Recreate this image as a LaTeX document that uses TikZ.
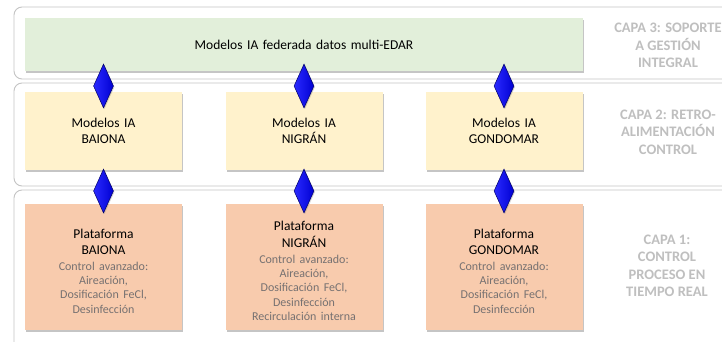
\documentclass[tikz,border=0pt]{standalone}
\usepackage{fontspec}
\setmainfont{Carlito}
\usetikzlibrary{shapes.geometric,shadows}
\definecolor{greenfill}{HTML}{E2EFDA}
\definecolor{yellowfill}{HTML}{FFF2CC}
\definecolor{orangefill}{HTML}{F8CBAD}
\definecolor{framegray}{HTML}{C4C4C4}
\definecolor{labelgray}{HTML}{BFBFBF}
\definecolor{smallgray}{HTML}{767171}
\definecolor{dbluelight}{HTML}{2A2AFF}
\definecolor{dbluedark}{HTML}{0000D2}
\definecolor{dblueline}{HTML}{00006A}
\begin{document}
\begin{tikzpicture}[x=1pt,y=-1pt,
  layerframe/.style={draw=framegray, line width=0.9pt, rounded corners=8pt},
  box/.style={rectangle, inner sep=0pt, outer sep=0pt, align=center,
    drop shadow={shadow xshift=1.3pt, shadow yshift=-1.6pt, opacity=0.45, fill=gray},
    font=\fontsize{13.5}{16.5}\selectfont},
  greenbox/.style={box, fill=greenfill, text width=558pt, minimum height=53pt},
  yellowbox/.style={box, fill=yellowfill, text width=157pt, minimum height=78pt},
  orangebox/.style={box, fill=orangefill, text width=157pt, minimum height=126pt},
  boxtext/.style={inner sep=0pt, align=center, text width=157pt, yshift=-4pt,
    font=\fontsize{13.5}{16.5}\selectfont},
  layerlabel/.style={align=center, text=labelgray, font=\fontsize{14.5}{17.5}\selectfont\bfseries},
  link/.style={diamond, minimum width=20pt, minimum height=44pt, inner sep=0pt,
    left color=dbluelight, right color=dbluedark, draw=dblueline, line width=0.5pt,
    drop shadow={shadow xshift=1pt, shadow yshift=-1pt, opacity=0.35, fill=gray}}
]
\useasboundingbox (0,0) rectangle (722,342);
\clip (0,0) rectangle (722,342);
\fill[white] (0,0) rectangle (722,342);

% layer frames
\draw[layerframe] (14,7) rectangle (780,79);
\draw[layerframe] (14,83) rectangle (780,186);
\draw[layerframe] (14,190) rectangle (780,380);

% layer 3
\node[greenbox] (fed) at (304,44.5) {Modelos IA federada datos multi-EDAR};

% layer 2
\node[yellowbox] (mb) at (103.5,131) {Modelos IA\\BAIONA};
\node[yellowbox] (mn) at (304,131) {Modelos IA\\NIGRÁN};
\node[yellowbox] (mg) at (504,131) {Modelos IA\\GONDOMAR};

% layer 1
\newcommand{\smallpart}[1]{\par\vspace{1.5pt}{\fontsize{12}{14.3}\selectfont\color{smallgray}#1\par}}
\node[orangebox] (pb) at (103.5,267) {};
\node[orangebox] (pn) at (304,267) {};
\node[orangebox] (pg) at (504,267) {};
\node[boxtext] (tb) at (pb.center) {Plataforma\\BAIONA\smallpart{Control avanzado:\\Aireación,\\Dosificación FeCl,\\Desinfección}};
\node[boxtext] (tn) at (pn.center) {Plataforma\\NIGRÁN\smallpart{Control avanzado:\\Aireación,\\Dosificación FeCl,\\Desinfección\\Recirculación interna}};
\node[boxtext] (tg) at (pg.center) {Plataforma\\GONDOMAR\smallpart{Control avanzado:\\Aireación,\\Dosificación FeCl,\\Desinfección}};

% links
\node[link] (d1) at (103.5,86) {};
\node[link] (d2) at (304,86) {};
\node[link] (d3) at (504,86) {};
\node[link] (d4) at (103.5,191) {};
\node[link] (d5) at (304,191) {};
\node[link] (d6) at (504,191) {};

% layer labels
\node[layerlabel] (l3) at (668,45.5) {CAPA 3: SOPORTE\\A GESTIÓN\\INTEGRAL};
\node[layerlabel] (l2) at (668,132) {CAPA 2: RETRO-\\ALIMENTACIÓN\\CONTROL};
\node[layerlabel] (l1) at (667,266) {CAPA 1:\\CONTROL\\PROCESO EN\\TIEMPO REAL};
\end{tikzpicture}
\end{document}
